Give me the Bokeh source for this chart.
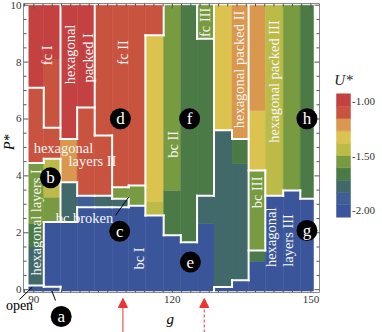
import math
from bokeh.plotting import figure
from bokeh.models import ColumnDataSource, Range1d, Arrow, NormalHead
from bokeh.core.properties import value
from bokeh.embed import file_html
from bokeh.resources import INLINE

# ------------------------------------------------------------------ data
# column edges in g (cells of the phase map)
g_edges = [88.92, 92.16, 95.78, 99.39, 103.19, 106.96, 110.55, 114.16, 118.12,
           121.84, 125.35, 129.02, 132.92, 136.51, 140.12, 144.0, 147.7, 150.57]
P_floor = -0.05

# for every column: upper P of each cell (bottom -> top), U* band of the cell, phase of the cell
seg_tops = [
    [0.15, 1.5, 2.32, 4.45, 7.1, 10],
    [0.1, 2.38, 3.25, 4.6, 5.69, 8.08, 10],
    [2.38, 3.78, 5.3, 10],
    [2.9, 3.3, 6.4, 10],
    [2.9, 3.3, 5.42, 10],
    [2.9, 3.2, 3.6, 10],
    [2.95, 3.66, 10],
    [2.61, 3.1, 8.94, 10],
    [1.91, 3.49, 10],
    [1.67, 10],
    [2.32, 3.3, 8.82, 10],
    [0.09, 5.6, 10],
    [0.33, 4.43, 5.3, 10],
    [1.0, 1.38, 4.19, 6.3, 10],
    [3.3, 10],
    [3.49, 10],
    [3.2, 10],
]
seg_levels = [
    [0, 2, 3, 4, 8, 9],
    [0, 0, 4, 5, 8, 8, 9],
    [0, 2, 7, 9],
    [0, 1, 8, 9],
    [0, 2, 8, 8],
    [0, 2, 4, 8],
    [0, 4, 8],
    [0, 5, 6, 8],
    [0, 3, 4],
    [0, 3],
    [0, 2, 3, 4],
    [0, 2, 6],
    [0, 2, 3, 7],
    [0, 3, 4, 6, 7],
    [0, 5],
    [0, 4],
    [0, 3],
]
seg_phases = [
    ["open", "hl1", "hl1", "hl1", "hl2", "fc1"],
    ["open", "bc1", "hl1", "hl1", "hl2", "fc1", "fc1"],
    ["bc1", "bcb", "hl2", "hp1"],
    ["bc1", "bcb", "hl2", "hp1"],
    ["bc1", "bcb", "hl2", "fc2"],
    ["bc1", "bcb", "c", "fc2"],
    ["bc1", "c", "fc2"],
    ["bc1", "bc2", "bc2", "fc2"],
    ["bc1", "bc2", "bc2"],
    ["bc1", "bc2"],
    ["bc1", "bc1", "bc2", "fc3"],
    ["hl3", "bc1", "hp2"],
    ["hl3", "bc1", "bc1", "hp2"],
    ["hl3", "hl3", "bc3", "hp3", "hp3"],
    ["hl3", "hp3"],
    ["hl3", "hp3"],
    ["hl3", "hp3"],
]

# U* colour bands, low -> high
palette = ["#3b559a", "#3f5e96", "#42696a", "#4b7a47", "#789a40",
           "#bcbb48", "#dcc24f", "#da974e", "#c8533f", "#c34141"]
U_low, U_high = -2.06, -0.93
U_ticks = [-2.0, -1.5, -1.0]
U_tick_labels = ["-2.00", "-1.50", "-1.00"]

# axis ticks
g_major = [90, 120, 150]
g_minor_step = 2
P_major = [0, 2, 4, 6, 8, 10]
P_minor_step = 0.5

# phase names written on the map
phase_texts = ["fc I", "hexagonal", "packed I", "fc II", "hexagonal", "layers II",
               "hexagonal layers I", "bc broken", "bc I", "bc II", "fc III",
               "hexagonal packed II", "hexagonal packed III", "bc III", "hexagonal", "layers III"]
phase_g = [92.96, 97.88, 101.7, 109.3, 96.42, 102.7, 90.58, 100.97, 112.86, 120.1, 127.14,
           134.5, 142.07, 138.28, 141.42, 145.1]
phase_P = [8.24, 8.27, 8.15, 8.34, 4.98, 4.54, 2.37, 2.51, 1.1, 5.11, 9.4,
           7.74, 7.32, 3.42, 1.84, 1.73]
phase_rot = [1, 1, 1, 1, 0, 0, 1, 0, 1, 1, 1, 1, 1, 1, 1, 1]

# lettered markers
mark_letters = ["a", "b", "c", "d", "e", "f", "g", "h"]
mark_g = [95.93, 93.61, 108.6, 108.75, 123.9, 123.74, 149.14, 149.14]
mark_P = [-0.944, 3.93, 2.05, 6.01, 0.97, 6.01, 2.08, 6.01]

# pointer lines: (g0, P0) -> (g1, P1)
pointers_g0 = [86.9, 94.7, 107.69]
pointers_P0 = [-0.346, -0.381, 2.61]
pointers_g1 = [89.65, 93.91, 110.55]
pointers_P1 = [0.086, -0.047, 3.25]

# red arrows below the g axis
arrow_g = [109.3, 126.9]
arrow_dash = ["solid", "3 2"]

# ------------------------------------------------------------------ layout
CANVAS_W, CANVAS_H = 382, 332
BOX_L, BOX_R, BOX_T, BOX_B = 23, 319, 3, 292          # canvas px of the g/P frame
G0, G1 = 87.77, 151.86
P0, P1 = -0.1, 10.06
sx = (BOX_R - BOX_L) / (G1 - G0)
sy = (BOX_B - BOX_T) / (P1 - P0)
def gx(px): return px / sx
def py(px): return px / sy

SERIF = "Liberation Serif"

p = figure(width=CANVAS_W, height=CANVAS_H,
           x_range=Range1d(G0 - gx(BOX_L), G1 + gx(CANVAS_W - BOX_R)),
           y_range=Range1d(P0 - py(CANVAS_H - BOX_B), P1 + py(BOX_T)),
           output_backend="svg", toolbar_location=None, min_border=0,
           x_axis_location=None, y_axis_location=None)
p.grid.visible = False
p.outline_line_color = None
p.background_fill_color = "white"

# cells
left, right, bottom, top, color = [], [], [], [], []
for i, (tops, levs) in enumerate(zip(seg_tops, seg_levels)):
    b = P_floor
    for t, lv in zip(tops, levs):
        left.append(g_edges[i]); right.append(g_edges[i + 1])
        bottom.append(b); top.append(t); color.append(palette[lv])
        b = t
p.quad(left="left", right="right", bottom="bottom", top="top", fill_color="color",
       line_color="color", line_width=0.5,
       source=ColumnDataSource(dict(left=left, right=right, bottom=bottom, top=top, color=color)))

# phase boundaries (white) where neighbouring cells belong to different phases
def phase_at(i, P):
    b = P_floor
    for t, ph in zip(seg_tops[i], seg_phases[i]):
        if b <= P < t:
            return ph
        b = t
    return seg_phases[i][-1]

bx, by = [], []
for i in range(len(seg_tops)):
    for k in range(len(seg_tops[i]) - 1):
        if seg_phases[i][k] != seg_phases[i][k + 1]:
            bx.append([g_edges[i], g_edges[i + 1]])
            by.append([seg_tops[i][k], seg_tops[i][k]])
for i in range(len(seg_tops) - 1):
    pts = sorted(set([P_floor] + seg_tops[i] + seg_tops[i + 1]))
    run = None
    for a, c in zip(pts[:-1], pts[1:]):
        m = 0.5 * (a + c)
        if phase_at(i, m) != phase_at(i + 1, m):
            run = [run[0], c] if run else [a, c]
        else:
            if run:
                bx.append([g_edges[i + 1]] * 2); by.append(run)
            run = None
    if run:
        bx.append([g_edges[i + 1]] * 2); by.append(run)
p.multi_line(xs=bx, ys=by, line_color="white", line_width=2, line_cap="square")

# frame with inward ticks on all four sides
p.quad(left=[G0], right=[G1], bottom=[P0], top=[P1], fill_color=None,
       line_color="#8a8a8a", line_width=1)
g_minor = [v for v in range(88, 152, g_minor_step) if v not in g_major]
P_minor = [k * P_minor_step for k in range(0, 21) if k * P_minor_step not in P_major]
tx0, ty0, tx1, ty1 = [], [], [], []
for ticks, ln in ((g_major, 5), (g_minor, 3)):
    for t in ticks:
        tx0 += [t, t]; tx1 += [t, t]
        ty0 += [P0, P1]; ty1 += [P0 + py(ln), P1 - py(ln)]
for ticks, ln in ((P_major, 5), (P_minor, 3)):
    for t in ticks:
        ty0 += [t, t]; ty1 += [t, t]
        tx0 += [G0, G1]; tx1 += [G0 + gx(ln), G1 - gx(ln)]
p.segment(x0=tx0, y0=ty0, x1=tx1, y1=ty1, line_color="#555555", line_width=1)

p.text(x=g_major, y=[P0 - py(3)] * len(g_major), text=[str(v) for v in g_major],
       text_align="center", text_baseline="top", text_font=value(SERIF),
       text_font_size="11px", text_color="#333333")
p.text(x=[G0 - gx(2)] * len(P_major), y=P_major, text=[str(v) for v in P_major],
       text_align="right", text_baseline="middle", text_font=value(SERIF),
       text_font_size="11px", text_color="#333333")

# axis titles and "open"
p.text(x=[119.57], y=[P0 - py(26)], text=["g"], text_align="center", text_baseline="middle",
       text_font=value(SERIF), text_font_style="italic", text_font_size="15px", text_color="black")
p.text(x=[G0 - gx(14)], y=[5.18], text=["P*"], angle=math.pi / 2, text_align="center",
       text_baseline="middle", text_font=value(SERIF), text_font_style="italic",
       text_font_size="14px", text_color="black")
p.text(x=[G0 - gx(4)], y=[P0 - py(13)], text=["open"], text_align="center", text_baseline="middle",
       text_font=value(SERIF), text_font_size="14px", text_color="black")

# colour bar (bands of the U* palette)
CB_G0, CB_G1 = G1 + gx(17), G1 + gx(31)
CB_P0, CB_P1 = P0 + py(BOX_B - 216.7), P0 + py(BOX_B - 93.3)
def U_to_P(u): return CB_P0 + (u - U_low) / (U_high - U_low) * (CB_P1 - CB_P0)
nb = len(palette)
u_edges = [U_low + (U_high - U_low) * k / nb for k in range(nb + 1)]
p.quad(left=[CB_G0] * nb, right=[CB_G1] * nb, bottom=[U_to_P(u) for u in u_edges[:-1]],
       top=[U_to_P(u) for u in u_edges[1:]], fill_color=palette, line_color=palette, line_width=0.5)
p.text(x=[CB_G1 + gx(1.5)] * len(U_ticks), y=[U_to_P(u) for u in U_ticks], text=U_tick_labels,
       text_align="left", text_baseline="middle", text_font=value(SERIF),
       text_font_size="11px", text_color="#333333")
p.text(x=[0.5 * (CB_G0 + CB_G1)], y=[CB_P1 + py(14.3)], text=["U*"], text_align="center",
       text_baseline="middle", text_font=value(SERIF), text_font_style="italic",
       text_font_size="15px", text_color="#222222")

# phase names
p.text(x=phase_g, y=phase_P, text=phase_texts, angle=[math.pi / 2 if r else 0 for r in phase_rot],
       text_align="center", text_baseline="middle", text_font=value(SERIF),
       text_font_size="14.5px", text_color="#f6f6f6")

# pointer lines
p.segment(x0=pointers_g0, y0=pointers_P0, x1=pointers_g1, y1=pointers_P1,
          line_color="black", line_width=1)

# lettered black discs
p.scatter(x=mark_g, y=mark_P, size=21, marker="circle", fill_color="black", line_color=None)
p.text(x=mark_g, y=mark_P, text=mark_letters, text_align="center", text_baseline="middle",
       text_font=value(SERIF), text_font_size="17px", text_color="white")

# red arrows
y_bottom = P0 - py(CANVAS_H - BOX_B)
for g, d in zip(arrow_g, arrow_dash):
    p.add_layout(Arrow(x_start=g, y_start=y_bottom, x_end=g, y_end=P0 - py(6),
                       end=NormalHead(size=9, fill_color="#ee3333", line_color="#ee3333"),
                       line_color="#ee3333", line_width=1, line_dash=d))

open("out.html", "w").write(file_html(p, INLINE))
